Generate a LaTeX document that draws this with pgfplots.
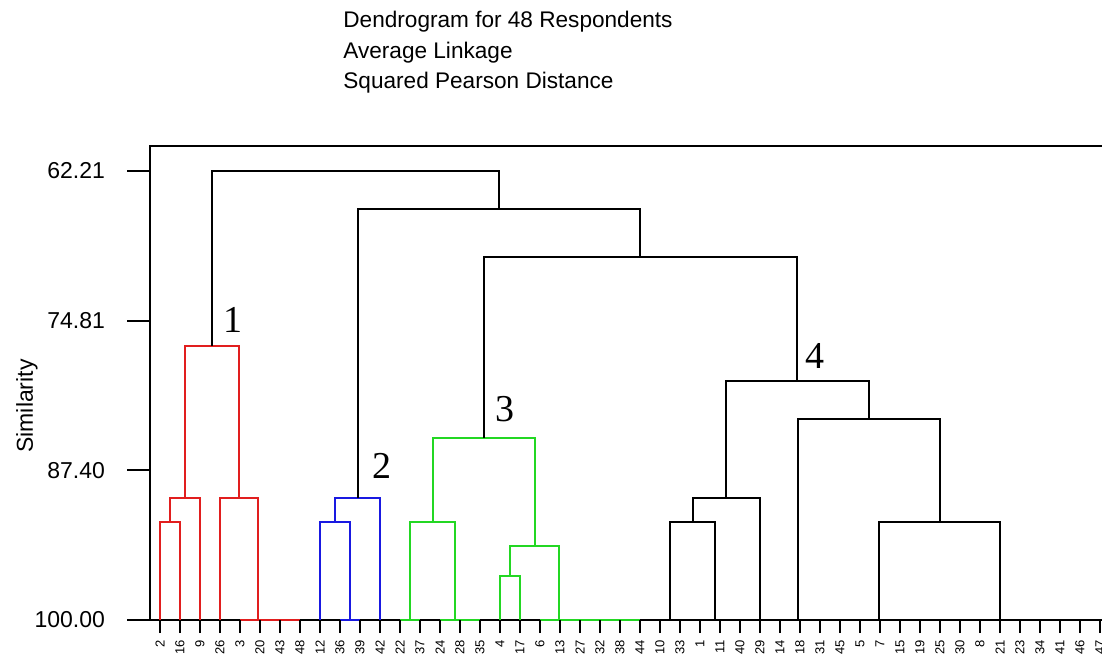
\documentclass[border=0pt]{standalone}
\usepackage{pgfplots}
\pgfplotsset{compat=1.18}
\usepackage{fontspec}
\setmainfont{Liberation Sans}
\newfontfamily\numfont{Liberation Serif}
\definecolor{cred}{RGB}{225,30,30}
\definecolor{cblue}{RGB}{25,25,225}
\definecolor{cgreen}{RGB}{35,215,35}
\begin{document}
\begin{tikzpicture}
\path[use as bounding box] (0,0) rectangle (551pt,331pt);
\pgfplotsset{
  dendro/.style={
    at={(75pt,21pt)}, anchor=south west, scale only axis,
    width=485pt, height=236.75pt,
    xmin=150, xmax=1120, ymin=60.15, ymax=100, y dir=reverse,
    clip=false,
  }
}
\begin{axis}[dendro,
  axis line style={line width=1pt, black},
  xtick=\empty,
  ytick={62.21,74.81,87.40,100},
  yticklabels={62.21,74.81,87.40,100.00},
  ytick pos=left, tick align=outside,
  major tick length=11.5pt,
  tick style={line width=1pt, black},
  yticklabel style={font=\fontsize{11.5}{13}\selectfont, anchor=east, xshift=-7.5pt},
  unbounded coords=jump,
  every axis plot/.append style={line width=1pt, line join=miter, no marks},
]
% cluster 1 (red)
\addplot[cred] coordinates {
 (240,100) (300,100) (0,nan)
 (160,100) (160,91.73) (180,91.73) (180,100) (0,nan)
 (170,91.73) (170,89.70) (200,89.70) (200,100) (0,nan)
 (220,100) (220,89.70) (257.5,89.70) (257.5,100) (0,nan)
 (185,89.70) (185,76.91) (238.75,76.91) (238.75,89.70)
};
% cluster 2 (blue)
\addplot[cblue] coordinates {
 (340,100) (360,100) (0,nan)
 (320,100) (320,91.73) (350,91.73) (350,100) (0,nan)
 (335,91.73) (335,89.70) (380,89.70) (380,100)
};
% cluster 3 (green)
\addplot[cgreen] coordinates {
 (400,100) (420,100) (0,nan)
 (440,100) (480,100) (0,nan)
 (540,100) (640,100) (0,nan)
 (410,100) (410,91.73) (455,91.73) (455,100) (0,nan)
 (500,100) (500,96.30) (520,96.30) (520,100) (0,nan)
 (510,96.30) (510,93.75) (559.375,93.75) (559.375,100) (0,nan)
 (432.5,91.73) (432.5,84.66) (534.6875,84.66) (534.6875,93.75)
};
% cluster 4 and upper merges (black)
\addplot[black] coordinates {
 (670,100) (670,91.73) (715,91.73) (715,100) (0,nan)
 (692.5,91.73) (692.5,89.70) (760,89.70) (760,100) (0,nan)
 (879.375,100) (879.375,91.73) (999.6875,91.73) (999.6875,100) (0,nan)
 (797.5,100) (797.5,83.11) (939.53,83.11) (939.53,91.73) (0,nan)
 (726.25,89.70) (726.25,79.91) (868.52,79.91) (868.52,83.11) (0,nan)
 (483.59,84.66) (483.59,69.45) (797.38,69.45) (797.38,79.91) (0,nan)
 (357.5,89.70) (357.5,65.43) (640.49,65.43) (640.49,69.45) (0,nan)
 (211.875,76.91) (211.875,62.21) (498.99,62.21) (498.99,65.43)
};
\node[font=\numfont\fontsize{19}{19}\selectfont, inner sep=0pt] at (axis cs:233,74.71) {1};
\node[font=\numfont\fontsize{19}{19}\selectfont, inner sep=0pt] at (axis cs:382,87.04) {2};
\node[font=\numfont\fontsize{19}{19}\selectfont, inner sep=0pt] at (axis cs:505,82.24) {3};
\node[font=\numfont\fontsize{19}{19}\selectfont, inner sep=0pt] at (axis cs:815,77.82) {4};
\end{axis}
\begin{axis}[dendro,
  axis line style={draw=none},
  ytick=\empty,
  xtick={160,180,200,220,240,260,280,300,320,340,360,380,400,420,440,460,480,500,520,540,560,580,600,620,640,660,680,700,720,740,760,780,800,820,840,860,880,900,920,940,960,980,1000,1020,1040,1060,1080,1100},
  xticklabels={2,16,9,26,3,20,43,48,12,36,39,42,22,37,24,28,35,4,17,6,13,27,32,38,44,10,33,1,11,40,29,14,18,31,45,5,7,15,19,25,30,8,21,23,34,41,46,47},
  xtick pos=bottom, tick align=outside,
  major tick length=6.5pt,
  tick style={line width=1pt, black},
  xticklabel style={font=\fontsize{6.5}{7}\selectfont, rotate=90, anchor=east},
]
\end{axis}
\node[anchor=base west, font=\fontsize{11.3}{13}\selectfont, inner sep=0pt] at (171.5pt,317pt) {Dendrogram for 48 Respondents};
\node[anchor=base west, font=\fontsize{11.3}{13}\selectfont, inner sep=0pt] at (171.5pt,301.75pt) {Average Linkage};
\node[anchor=base west, font=\fontsize{11.3}{13}\selectfont, inner sep=0pt] at (171.5pt,286.5pt) {Squared Pearson Distance};
\node[rotate=90, font=\fontsize{11.5}{13}\selectfont, inner sep=0pt] at (13.5pt,128pt) {Similarity};
\end{tikzpicture}
\end{document}
